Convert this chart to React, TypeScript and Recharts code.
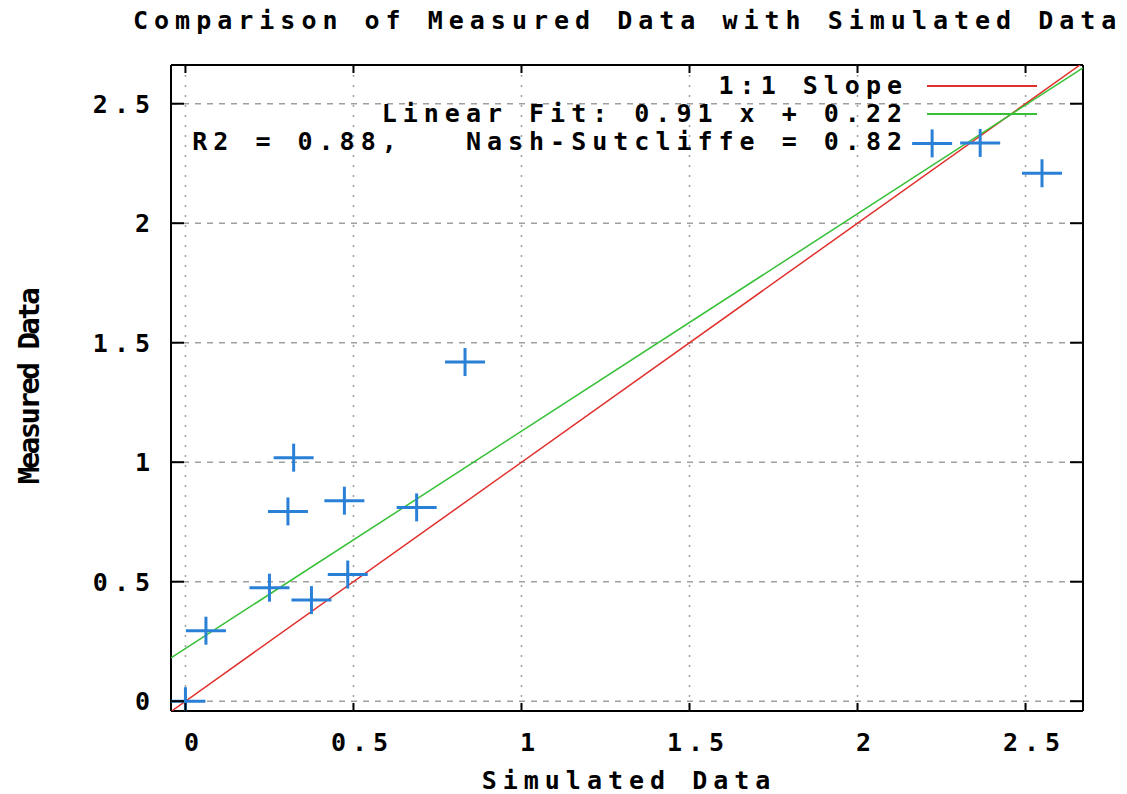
import React from "react";
import {
  ScatterChart,
  Scatter,
  XAxis,
  YAxis,
  CartesianGrid,
} from "recharts";

const simulated = [0, 0.061, 0.25, 0.375, 0.483, 0.473, 0.305, 0.322, 0.688, 0.832, 2.222, 2.365, 2.549];
const measured = [0, 0.295, 0.475, 0.423, 0.53, 0.839, 0.794, 1.019, 0.811, 1.419, 2.334, 2.336, 2.209];

// reference lines (end points)
const slopeX = [-0.041, 2.662];
const slopeY = [-0.041, 2.662];
const fitX = [-0.043, 2.671];
const fitY = [0.181, 2.65];

const tickValues = [0, 0.5, 1, 1.5, 2, 2.5];
const tickLabels = ["0", "0.5", "1", "1.5", "2", "2.5"];

const points = simulated.map((x, i) => ({ x, y: measured[i] }));
const slopeLine = slopeX.map((x, i) => ({ x, y: slopeY[i] }));
const fitLine = fitX.map((x, i) => ({ x, y: fitY[i] }));

const xDomain = [-0.043, 2.671];
const yDomain = [-0.041, 2.662];

const BLUE = "#2a80d6";
const RED = "#e0302c";
const GREEN = "#36c036";

const font: React.CSSProperties = {
  fontFamily: "'DejaVu Sans Mono', monospace",
  fontWeight: "bold",
  fontSize: 25,
  letterSpacing: 6,
  fill: "#000",
  color: "#000",
};

const label = (v: number) => tickLabels[tickValues.indexOf(v)] ?? String(v);

const BottomTick = ({ x, y, payload }: any) => (
  <g>
    <line x1={x} y1={y} x2={x} y2={y - 8} stroke="#000" strokeWidth={2} />
    <text x={x + 9} y={y + 40} textAnchor="middle" style={font}>
      {label(payload.value)}
    </text>
  </g>
);

const TopTick = ({ x, y }: any) => (
  <line x1={x} y1={y} x2={x} y2={y + 8} stroke="#000" strokeWidth={2} />
);

const LeftTick = ({ x, y, payload }: any) => (
  <g>
    <line x1={x} y1={y} x2={x + 13} y2={y} stroke="#000" strokeWidth={2} />
    <text x={x - 15} y={y + 9} textAnchor="end" style={font}>
      {label(payload.value)}
    </text>
  </g>
);

const RightTick = ({ x, y }: any) => (
  <line x1={x} y1={y} x2={x - 13} y2={y} stroke="#000" strokeWidth={2} />
);

const Plus = ({ cx, cy }: any) => (
  <g>
    <line x1={cx - 20} y1={cy} x2={cx + 20} y2={cy} stroke={BLUE} strokeWidth={3} />
    <line x1={cx} y1={cy - 14} x2={cx} y2={cy + 14} stroke={BLUE} strokeWidth={3} />
  </g>
);

const NoShape = () => <g />;

const legendRows = [
  { text: "1:1 Slope", color: RED, top: 72 },
  { text: "Linear Fit: 0.91 x + 0.22", color: GREEN, top: 100 },
  { text: "R2 = 0.88,   Nash-Sutcliffe = 0.82", color: null, top: 128 },
];

export default function App() {
  return (
    <div style={{ position: "absolute", left: 0, top: 0, width: 1127, height: 794, background: "#fff" }}>
      <div
        style={{
          ...font,
          position: "absolute",
          left: 133,
          top: 7,
          whiteSpace: "pre",
          lineHeight: "28px",
        }}
      >
        Comparison of Measured Data with Simulated Data
      </div>

      <ScatterChart width={1127} height={794} margin={{ top: 64, right: 43, bottom: 53, left: 111 }}>
        <CartesianGrid horizontal={false} stroke="#a0a0a0" strokeWidth={1.5} strokeDasharray="2 8" />
        <CartesianGrid vertical={false} stroke="#a0a0a0" strokeWidth={1.5} strokeDasharray="6 6" />
        <XAxis
          type="number"
          dataKey="x"
          domain={xDomain}
          ticks={tickValues}
          interval={0}
          allowDataOverflow
          height={30}
          tickSize={0}
          tickMargin={0}
          tickLine={false}
          axisLine={{ stroke: "#000", strokeWidth: 2 }}
          tick={<BottomTick />}
          label={(p: any) => {
            const vb = p.viewBox || { x: 171, y: 711, width: 912 };
            return (
              <text x={vb.x + vb.width / 2 + 2} y={vb.y + 78} textAnchor="middle" style={font}>
                Simulated Data
              </text>
            );
          }}
        />
        <XAxis
          xAxisId="top"
          orientation="top"
          type="number"
          dataKey="x"
          domain={xDomain}
          ticks={tickValues}
          interval={0}
          allowDataOverflow
          height={1}
          tickSize={0}
          tickMargin={0}
          tickLine={false}
          axisLine={{ stroke: "#000", strokeWidth: 2 }}
          tick={<TopTick />}
        />
        <YAxis
          type="number"
          dataKey="y"
          domain={yDomain}
          ticks={tickValues}
          interval={0}
          allowDataOverflow
          width={60}
          tickSize={0}
          tickMargin={0}
          tickLine={false}
          axisLine={{ stroke: "#000", strokeWidth: 2 }}
          tick={<LeftTick />}
          label={(p: any) => {
            const vb = p.viewBox || { x: 111, y: 65, height: 646 };
            const cx = 39;
            const cy = vb.y + vb.height / 2 - 1;
            return (
              <text
                x={cx}
                y={cy}
                textAnchor="middle"
                transform={`rotate(-90 ${cx} ${cy})`}
                style={{ ...font, fontSize: 29, letterSpacing: -2.5 }}
              >
                Measured Data
              </text>
            );
          }}
        />
        <YAxis
          yAxisId="right"
          orientation="right"
          type="number"
          dataKey="y"
          domain={yDomain}
          ticks={tickValues}
          interval={0}
          allowDataOverflow
          width={1}
          tickSize={0}
          tickMargin={0}
          tickLine={false}
          axisLine={{ stroke: "#000", strokeWidth: 2 }}
          tick={<RightTick />}
        />
        <Scatter
          data={slopeLine}
          line={{ stroke: RED, strokeWidth: 1.5 }}
          shape={<NoShape />}
          isAnimationActive={false}
        />
        <Scatter
          data={fitLine}
          line={{ stroke: GREEN, strokeWidth: 1.5 }}
          shape={<NoShape />}
          isAnimationActive={false}
        />
        <Scatter data={points} shape={<Plus />} isAnimationActive={false} />
      </ScatterChart>

      {legendRows.map((r) => (
        <div key={r.text} style={{ position: "absolute", top: r.top, left: 0, width: 1127, height: 28 }}>
          <div
            style={{
              ...font,
              position: "absolute",
              right: 1127 - 908,
              whiteSpace: "pre",
              lineHeight: "28px",
            }}
          >
            {r.text}
          </div>
          {r.color && (
            <div
              style={{
                position: "absolute",
                left: 927,
                width: 110,
                top: 13,
                height: 2,
                background: r.color,
              }}
            />
          )}
        </div>
      ))}
    </div>
  );
}
